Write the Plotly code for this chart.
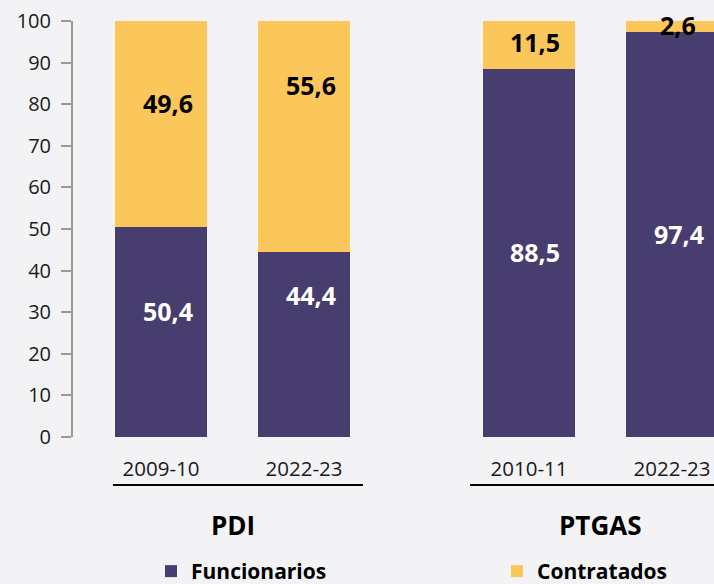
import plotly.graph_objects as go

# ---- data ----
groups = ["PDI", "PTGAS"]
pdi_years = ["2009-10", "2022-23"]
ptgas_years = ["2010-11", "2022-23"]
pdi_funcionarios = [50.4, 44.4]
pdi_contratados = [49.6, 55.6]
ptgas_funcionarios = [88.5, 97.4]
ptgas_contratados = [11.5, 2.6]
series_names = ["Funcionarios", "Contratados"]
y_ticks = list(range(0, 101, 10))

# ---- style ----
PURPLE = "#483d6f"
YELLOW = "#fcc75a"
BG = "#f3f3f6"
FONT = "Open Sans"
W, H = 714, 584
# label nudges (px) per segment: (xshift, yshift)
pdi_func_shift = [(7, 21), (7, 50)]
pdi_contr_shift = [(7, 21), (7, 52)]
ptgas_func_shift = [(6, 1), (7, 0)]
ptgas_contr_shift = [(6, 3), (6, 1)]

fig = go.Figure()
fig.add_trace(go.Bar(x=pdi_years, y=pdi_funcionarios, name=f"<b>{series_names[0]}</b>", marker_color=PURPLE,
                     marker_line_width=0, legendgroup="f", xaxis="x", yaxis="y"))
fig.add_trace(go.Bar(x=pdi_years, y=pdi_contratados, name=f"<b>{series_names[1]}</b>", marker_color=YELLOW,
                     marker_line_width=0, legendgroup="c", xaxis="x", yaxis="y"))
fig.add_trace(go.Bar(x=ptgas_years, y=ptgas_funcionarios, name=f"<b>{series_names[0]}</b>", marker_color=PURPLE,
                     marker_line_width=0, legendgroup="f", showlegend=False, xaxis="x2", yaxis="y"))
fig.add_trace(go.Bar(x=ptgas_years, y=ptgas_contratados, name=f"<b>{series_names[1]}</b>", marker_color=YELLOW,
                     marker_line_width=0, legendgroup="c", showlegend=False, xaxis="x2", yaxis="y"))


def fmt(v):
    return f"{v:.1f}".replace(".", ",")


annotations = []


def add_labels(xref, cats, bottom, top, sb, st):
    for i, c in enumerate(cats):
        b, t = bottom[i], top[i]
        annotations.append(dict(x=c, y=b / 2, xref=xref, yref="y", text=f"<b>{fmt(b)}</b>",
                                showarrow=False, xshift=sb[i][0], yshift=sb[i][1],
                                font=dict(family=FONT, size=25, color="white")))
        annotations.append(dict(x=c, y=b + t / 2, xref=xref, yref="y", text=f"<b>{fmt(t)}</b>",
                                showarrow=False, xshift=st[i][0], yshift=st[i][1],
                                font=dict(family=FONT, size=25, color="black")))


add_labels("x", pdi_years, pdi_funcionarios, pdi_contratados, pdi_func_shift, pdi_contr_shift)
add_labels("x2", ptgas_years, ptgas_funcionarios, ptgas_contratados, ptgas_func_shift, ptgas_contr_shift)

# group titles
for xref, g in zip(["x", "x2"], groups):
    annotations.append(dict(x=0.5, y=-0.2115, xref=xref, yref="paper", text=f"<b>{g}</b>",
                            showarrow=False, yanchor="middle",
                            font=dict(family=FONT, size=26, color="black")))

shapes = [
    dict(type="line", xref="x domain", yref="paper", x0=0.082, x1=0.956, y0=-0.1154, y1=-0.1154,
         line=dict(color="black", width=2)),
    dict(type="line", xref="x2 domain", yref="paper", x0=0.049, x1=1.0, y0=-0.1154, y1=-0.1154,
         line=dict(color="black", width=2)),
]

xaxis_common = dict(type="category", showline=False, showgrid=False, zeroline=False,
                    ticks="outside", ticklen=13, tickcolor="rgba(0,0,0,0)",
                    tickfont=dict(family=FONT, size=20.5, color="#1a1a1a"), anchor="y")

fig.update_layout(
    width=W, height=H,
    margin=dict(l=0, r=0, t=21, b=147, autoexpand=False),
    paper_bgcolor=BG, plot_bgcolor=BG,
    barmode="stack", bargap=0.357,
    xaxis=dict(domain=[89.5 / W, 375.5 / W], range=[-0.5, 1.5], **xaxis_common),
    xaxis2=dict(domain=[457.5 / W, 1.0], range=[-0.5, 1.294], **xaxis_common),
    yaxis=dict(range=[0, 100], anchor="free", position=72 / W, tickvals=y_ticks,
               showline=True, linecolor="#9a9a9a", linewidth=2,
               ticks="outside", ticklen=10, tickwidth=2, tickcolor="#9a9a9a",
               showgrid=False, zeroline=False, automargin=False, ticklabelstandoff=6,
               tickfont=dict(family=FONT, size=20, color="#1a1a1a")),
    legend=dict(orientation="h", x=151 / W, xanchor="left", y=-0.274, yanchor="top",
                traceorder="normal", entrywidth=301, entrywidthmode="pixels",
                font=dict(family=FONT, size=21, color="black"), bgcolor="rgba(0,0,0,0)"),
    annotations=annotations, shapes=shapes,
    showlegend=True,
)

fig.write_html("out.html", config={"displayModeBar": False},
               post_script="document.body.style.margin='0';document.body.style.background='%s';" % BG)
